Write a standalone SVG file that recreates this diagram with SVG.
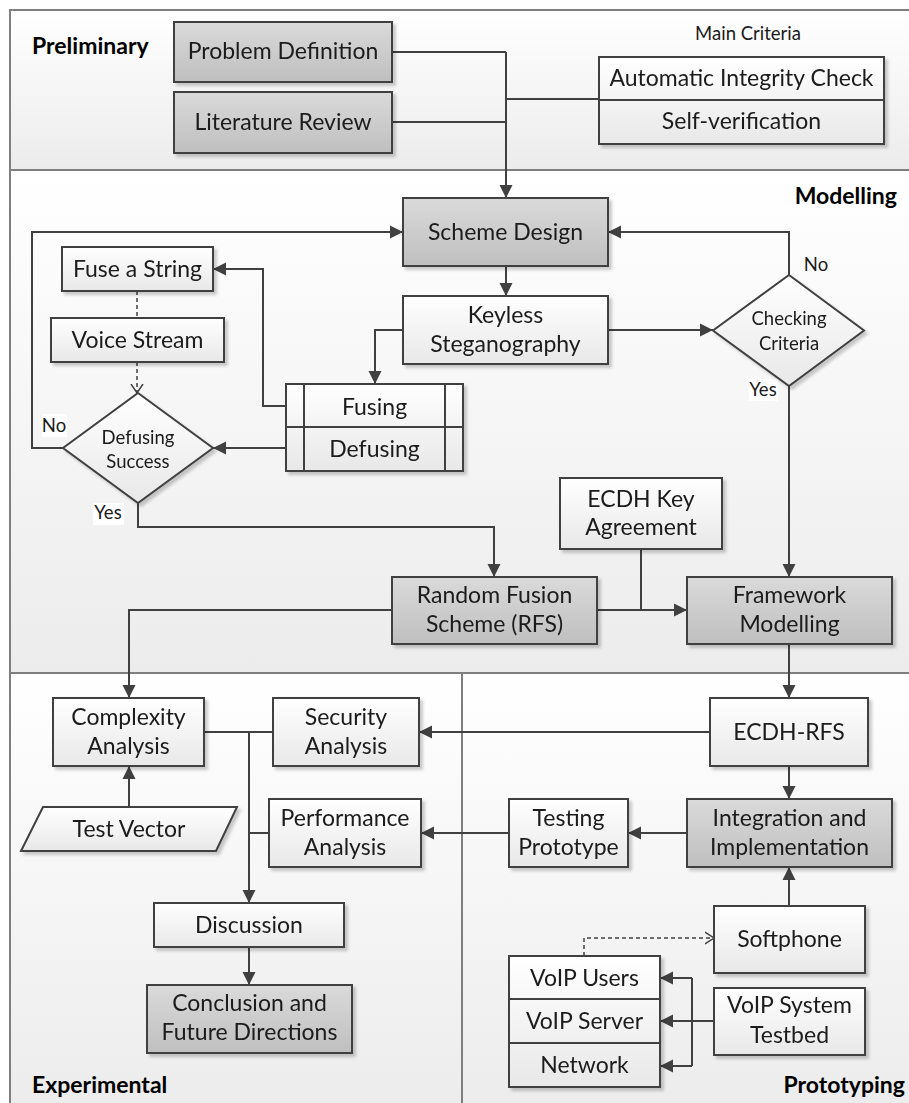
<svg xmlns="http://www.w3.org/2000/svg" width="909" height="1103" viewBox="0 0 909 1103">
  <style>
    .sec { stroke: #7f7f7f; stroke-width: 2; fill: url(#secGrad); }
    .nw { fill: url(#whiteGrad); stroke: #404040; stroke-width: 2; }
    .ng { fill: url(#grayGrad); stroke: #404040; stroke-width: 2; }
    .div { stroke: #404040; stroke-width: 2; fill: none; }
    .node { filter: url(#shadow); }
    text { font-family: Lato, "Open Sans", "Liberation Sans", sans-serif; fill: #1a1a1a; }
    .t { font-size: 23px; text-anchor: middle; }
    .ts { font-size: 18.5px; text-anchor: middle; }
    .sl { font-size: 23px; font-weight: bold; fill: #000; }
    .conn path { fill: none; stroke: #404040; stroke-width: 2; }
    .conn .arr { marker-end: url(#arrow); }
    .conn .dash { stroke-dasharray: 4 3; stroke-width: 1.5; }
    .conn .dashArr { stroke-dasharray: 4 3; stroke-width: 1.5; marker-end: url(#openArrow); }
    .lbl { font-size: 18.5px; text-anchor: middle; }
  </style>
  <defs>
    <linearGradient id="secGrad" x1="0" y1="0" x2="0" y2="1">
      <stop offset="0" stop-color="#ffffff"/>
      <stop offset="1" stop-color="#ececec"/>
    </linearGradient>
    <linearGradient id="whiteGrad" x1="0" y1="0" x2="0" y2="1">
      <stop offset="0" stop-color="#ffffff"/>
      <stop offset="1" stop-color="#e8e8e8"/>
    </linearGradient>
    <linearGradient id="grayGrad" x1="0" y1="0" x2="0" y2="1">
      <stop offset="0" stop-color="#dadada"/>
      <stop offset="1" stop-color="#bfbfbf"/>
    </linearGradient>
    <filter id="shadow" x="-10%" y="-10%" width="130%" height="140%">
      <feDropShadow dx="3" dy="3" stdDeviation="1.5" flood-color="#000" flood-opacity="0.2"/>
    </filter>
    <marker id="arrow" markerUnits="userSpaceOnUse" markerWidth="15" markerHeight="15" refX="13" refY="6.5" orient="auto" viewBox="0 0 15 13">
      <path d="M0,0 L13,6.5 L0,13 z" fill="#404040"/>
    </marker>
    <marker id="openArrow" markerUnits="userSpaceOnUse" markerWidth="14" markerHeight="14" refX="9" refY="6" orient="auto" viewBox="0 0 14 12">
      <path d="M0,0 L9,6 L0,12" fill="none" stroke="#404040" stroke-width="1.5"/>
    </marker>
  </defs>

  <rect width="909" height="1103" fill="#ffffff"/>

  <!-- swimlane sections -->
  <g id="sections">
    <rect class="sec" x="10" y="10" width="910" height="160"/>
    <rect class="sec" x="10" y="170" width="910" height="503"/>
    <rect class="sec" x="10" y="673" width="452" height="440"/>
    <rect class="sec" x="462" y="673" width="458" height="440"/>
    <text class="sl" x="32" y="54">Preliminary</text>
    <text class="sl" x="897" y="204" text-anchor="end">Modelling</text>
    <text class="sl" x="32" y="1093">Experimental</text>
    <text class="sl" x="905" y="1093" text-anchor="end">Prototyping</text>
  </g>

  <!-- connectors -->
  <g id="connectors" class="conn">
    <path d="M392,52 H506"/>
    <path d="M392,122 H506"/>
    <path d="M506,99 H599"/>
    <path class="arr" d="M506,52 V198"/>
    <path class="arr" d="M506,266 V296"/>
    <path class="arr" d="M608,330 H713"/>
    <path class="arr" d="M789,275 V232 H608"/>
    <path class="arr" d="M789,386 V577"/>
    <path class="arr" d="M403,330 H375 V384"/>
    <path class="arr" d="M286,406 H263 V269 H213"/>
    <path class="arr" d="M286,448 H213"/>
    <path class="arr" d="M63,448 H32 V232 H403"/>
    <path class="arr" d="M138,503 V527 H494 V577"/>
    <path d="M641,549 V610"/>
    <path class="arr" d="M597,610 H687"/>
    <path class="arr" d="M392,610 H129 V698"/>
    <path class="arr" d="M789,644 V698"/>
    <path class="arr" d="M710,732 H419"/>
    <path d="M204,732 H273"/>
    <path class="arr" d="M249,732 V903"/>
    <path d="M269,833 H249"/>
    <path class="arr" d="M129,807 V766"/>
    <path class="arr" d="M249,947 V985"/>
    <path class="arr" d="M789,766 V799"/>
    <path class="arr" d="M687,833 H628"/>
    <path class="arr" d="M509,833 H421"/>
    <path class="arr" d="M789,906 V867"/>
    <path class="arr" d="M714,1021 H660"/>
    <path d="M692,978 V1066"/>
    <path class="arr" d="M692,978 H660"/>
    <path class="arr" d="M692,1066 H660"/>
    <path class="dash" d="M137,291 V318"/>
    <path class="dashArr" d="M137,362 V393"/>
    <path class="dashArr" d="M584,956 V938 H714"/>
  </g>

  <!-- branch labels -->
  <g id="labels">
    <text class="lbl" x="816" y="271">No</text>
    <rect x="749" y="379" width="29" height="22" fill="#ffffff"/>
    <text class="lbl" x="763" y="396">Yes</text>
    <rect x="42" y="414" width="25" height="23" fill="#ffffff"/>
    <text class="lbl" x="54" y="432">No</text>
    <rect x="93" y="503" width="31" height="22" fill="#ffffff"/>
    <text class="lbl" x="108" y="519">Yes</text>
  </g>

  <!-- Preliminary -->
  <g id="problem-definition" class="node">
    <rect class="ng" x="174" y="22" width="218" height="60"/>
    <text class="t" x="283" y="59">Problem Definition</text>
  </g>
  <g id="literature-review" class="node">
    <rect class="ng" x="174" y="92" width="218" height="61"/>
    <text class="t" x="283" y="130">Literature Review</text>
  </g>
  <g id="main-criteria">
    <text class="ts" x="748" y="40">Main Criteria</text>
    <g class="node">
      <rect class="nw" x="599" y="57" width="285" height="87"/>
      <path class="div" d="M599,100 H884"/>
      <text class="t" x="741.5" y="86">Automatic Integrity Check</text>
      <text class="t" x="741.5" y="129">Self-verification</text>
    </g>
  </g>

  <!-- Modelling -->
  <g id="scheme-design" class="node">
    <rect class="ng" x="403" y="198" width="205" height="68"/>
    <text class="t" x="505.5" y="240">Scheme Design</text>
  </g>
  <g id="keyless-steganography" class="node">
    <rect class="nw" x="403" y="296" width="205" height="68"/>
    <text class="t" x="505.5" y="323">Keyless</text>
    <text class="t" x="505.5" y="352">Steganography</text>
  </g>
  <g id="checking-criteria" class="node">
    <polygon class="nw" points="789,275 864,330.5 789,386 713,330.5"/>
    <text class="ts" x="789" y="325">Checking</text>
    <text class="ts" x="789" y="350">Criteria</text>
  </g>
  <g id="fuse-a-string" class="node">
    <rect class="nw" x="62" y="247" width="151" height="44"/>
    <text class="t" x="137.5" y="277">Fuse a String</text>
  </g>
  <g id="voice-stream" class="node">
    <rect class="nw" x="51" y="318" width="173" height="44"/>
    <text class="t" x="137.5" y="348">Voice Stream</text>
  </g>
  <g id="defusing-success" class="node">
    <polygon class="nw" points="138,393 213,448 138,503 63,448"/>
    <text class="ts" x="138" y="444">Defusing</text>
    <text class="ts" x="138" y="468">Success</text>
  </g>
  <g id="fusing-defusing" class="node">
    <rect class="nw" x="286" y="384" width="177" height="87"/>
    <path class="div" d="M286,427 H463 M304,384 V471 M445,384 V471"/>
    <text class="t" x="374.5" y="415">Fusing</text>
    <text class="t" x="374.5" y="457">Defusing</text>
  </g>
  <g id="ecdh-key-agreement" class="node">
    <rect class="nw" x="560" y="478" width="162" height="71"/>
    <text class="t" x="641" y="507">ECDH Key</text>
    <text class="t" x="641" y="535">Agreement</text>
  </g>
  <g id="random-fusion-scheme" class="node">
    <rect class="ng" x="392" y="577" width="205" height="67"/>
    <text class="t" x="494.5" y="603">Random Fusion</text>
    <text class="t" x="494.5" y="632">Scheme (RFS)</text>
  </g>
  <g id="framework-modelling" class="node">
    <rect class="ng" x="687" y="577" width="205" height="67"/>
    <text class="t" x="789.5" y="603">Framework</text>
    <text class="t" x="789.5" y="632">Modelling</text>
  </g>

  <!-- Experimental -->
  <g id="complexity-analysis" class="node">
    <rect class="nw" x="53" y="698" width="151" height="68"/>
    <text class="t" x="128.5" y="725">Complexity</text>
    <text class="t" x="128.5" y="754">Analysis</text>
  </g>
  <g id="security-analysis" class="node">
    <rect class="nw" x="273" y="698" width="146" height="68"/>
    <text class="t" x="346" y="725">Security</text>
    <text class="t" x="346" y="754">Analysis</text>
  </g>
  <g id="test-vector" class="node">
    <polygon class="nw" points="43,807 237,807 216,851 21,851"/>
    <text class="t" x="129" y="837">Test Vector</text>
  </g>
  <g id="performance-analysis" class="node">
    <rect class="nw" x="269" y="799" width="152" height="68"/>
    <text class="t" x="345" y="826">Performance</text>
    <text class="t" x="345" y="855">Analysis</text>
  </g>
  <g id="discussion" class="node">
    <rect class="nw" x="154" y="903" width="190" height="44"/>
    <text class="t" x="249" y="933">Discussion</text>
  </g>
  <g id="conclusion" class="node">
    <rect class="ng" x="147" y="985" width="205" height="68"/>
    <text class="t" x="249.5" y="1011">Conclusion and</text>
    <text class="t" x="249.5" y="1040">Future Directions</text>
  </g>

  <!-- Prototyping -->
  <g id="ecdh-rfs" class="node">
    <rect class="nw" x="710" y="698" width="158" height="68"/>
    <text class="t" x="789" y="740">ECDH-RFS</text>
  </g>
  <g id="integration-implementation" class="node">
    <rect class="ng" x="687" y="799" width="205" height="68"/>
    <text class="t" x="789.5" y="826">Integration and</text>
    <text class="t" x="789.5" y="855">Implementation</text>
  </g>
  <g id="testing-prototype" class="node">
    <rect class="nw" x="509" y="799" width="119" height="68"/>
    <text class="t" x="568.5" y="826">Testing</text>
    <text class="t" x="568.5" y="855">Prototype</text>
  </g>
  <g id="softphone" class="node">
    <rect class="nw" x="714" y="906" width="151" height="67"/>
    <text class="t" x="789.5" y="947">Softphone</text>
  </g>
  <g id="voip-stack" class="node">
    <rect class="nw" x="509" y="956" width="151" height="131"/>
    <path class="div" d="M509,999 H660 M509,1043 H660"/>
    <text class="t" x="584.5" y="986">VoIP Users</text>
    <text class="t" x="584.5" y="1029">VoIP Server</text>
    <text class="t" x="584.5" y="1073">Network</text>
  </g>
  <g id="voip-system-testbed" class="node">
    <rect class="nw" x="714" y="988" width="151" height="67"/>
    <text class="t" x="789.5" y="1013">VoIP System</text>
    <text class="t" x="789.5" y="1043">Testbed</text>
  </g>
</svg>
